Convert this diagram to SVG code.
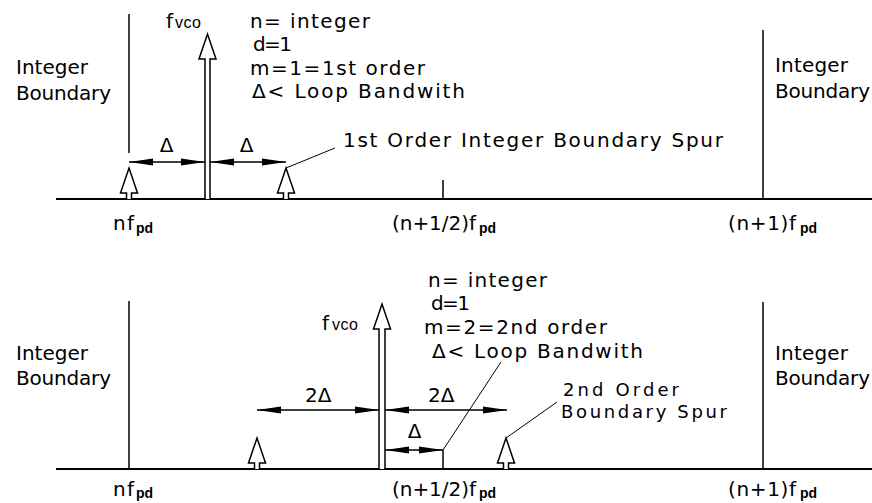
<svg xmlns="http://www.w3.org/2000/svg" width="872" height="503" viewBox="0 0 872 503">
<style>
  .t { font-family: "DejaVu Sans", "Liberation Sans", sans-serif; font-size: 20px; fill: #000; }
  .tight { font-size: 18px; }
  .sub { font-family: "Liberation Sans", Arial, sans-serif; font-size: 14px; font-weight: bold; }
  .vco { font-family: "Liberation Sans", Arial, sans-serif; font-size: 16px; letter-spacing: 0.5px; }
  .ln { stroke: #000; stroke-width: 1.5; fill: none; }
  .axis { stroke: #000; stroke-width: 2; fill: none; }
  .spur { stroke: #000; stroke-width: 1.5; fill: #fff; stroke-linejoin: miter; }
  .dim { stroke: #000; stroke-width: 1.5; fill: none; marker-start: url(#ah); marker-end: url(#ah); }
  .lead { stroke: #000; stroke-width: 1; fill: none; }
</style>
<defs>
  <marker id="ah" markerUnits="userSpaceOnUse" markerWidth="26" markerHeight="8" viewBox="-25 -4 26 8" refX="0" refY="0" orient="auto-start-reverse">
    <path d="M0,0 L-24,-3.5 L-24,3.5 Z" fill="#000"/>
  </marker>
</defs>
<rect width="872" height="503" fill="#fff"/>

<!-- ===== Top panel ===== -->
<g id="top-axis">
  <line class="axis" x1="56" y1="199" x2="872" y2="199"/>
  <line class="ln" x1="443" y1="180" x2="443" y2="199"/>
</g>
<g id="top-left-boundary">
  <line class="ln" x1="129" y1="14" x2="129" y2="153"/>
  <text class="t" x="16" y="74" textLength="72">Integer</text>
  <text class="t" x="16" y="100" textLength="95">Boundary</text>
</g>
<g id="top-right-boundary">
  <line class="ln" x1="763" y1="30" x2="763" y2="199"/>
  <text class="t" x="775" y="72" textLength="73">Integer</text>
  <text class="t" x="775" y="98" textLength="95">Boundary</text>
</g>
<g id="top-fvco">
  <path class="spur" d="M205,199 V59 H199 L207.5,34 L216,59 H210 V199"/>
  <text class="t" x="166" y="28">f<tspan class="vco" x="175" y="28">vco</tspan></text>
</g>
<g id="top-spur-left">
  <path class="spur" d="M126.5,199 V193 H120.5 L129,168 L137.5,193 H131.5 V199"/>
</g>
<g id="top-spur-right">
  <path class="spur" d="M283.5,199 V193 H277.5 L286,168 L294.5,193 H288.5 V199"/>
</g>
<g id="top-params">
  <text class="t" x="250" y="28" textLength="120">n= integer</text>
  <text class="t" x="253" y="51" textLength="39">d=1</text>
  <text class="t" x="250" y="75" textLength="175">m=1=1st order</text>
  <text class="t" x="252" y="98" textLength="213">Δ&lt; Loop Bandwith</text>
</g>
<g id="top-delta-labels">
  <text class="t" x="166.5" y="152" text-anchor="middle">Δ</text>
  <text class="t" x="246.5" y="152" text-anchor="middle">Δ</text>
</g>
<g id="top-spur-label">
  <text class="t" x="343" y="147" textLength="380">1st Order Integer Boundary Spur</text>
</g>
<g id="top-freq-labels">
  <text class="t" x="113" y="230"><tspan textLength="21">nf</tspan><tspan class="sub" x="136" y="233">pd</tspan></text>
  <text class="t" x="392" y="230"><tspan textLength="84">(n+1/2)f</tspan><tspan class="sub" x="479" y="233">pd</tspan></text>
  <text class="t" x="728" y="230"><tspan textLength="68">(n+1)f</tspan><tspan class="sub" x="800" y="233">pd</tspan></text>
</g>

<!-- ===== Bottom panel ===== -->
<g id="bottom-axis">
  <line class="axis" x1="56" y1="469" x2="872" y2="469"/>
  <line class="ln" x1="443" y1="450" x2="443" y2="469"/>
</g>
<g id="bottom-left-boundary">
  <line class="ln" x1="129" y1="301" x2="129" y2="469"/>
  <text class="t" x="16" y="360" textLength="72">Integer</text>
  <text class="t" x="16" y="385" textLength="95">Boundary</text>
</g>
<g id="bottom-right-boundary">
  <line class="ln" x1="763" y1="302" x2="763" y2="469"/>
  <text class="t" x="775" y="360" textLength="73">Integer</text>
  <text class="t" x="775" y="385" textLength="95">Boundary</text>
</g>
<g id="bottom-fvco">
  <path class="spur" d="M379,469 V329 H373.5 L382,304 L390.5,329 H385 V469"/>
  <text class="t" x="322" y="330">f<tspan class="vco" x="332" y="330">vco</tspan></text>
</g>
<g id="bottom-spur-left">
  <path class="spur" d="M254.5,469 V463 H248.5 L257,438 L265.5,463 H259.5 V469"/>
</g>
<g id="bottom-spur-right">
  <path class="spur" d="M503.5,469 V463 H497.5 L506,438 L514.5,463 H508.5 V469"/>
</g>
<g id="bottom-params">
  <text class="t" x="428" y="287" textLength="119">n= integer</text>
  <text class="t" x="431" y="310" textLength="39">d=1</text>
  <text class="t" x="424" y="334" textLength="183">m=2=2nd order</text>
  <text class="t" x="432" y="358" textLength="211">Δ&lt; Loop Bandwith</text>
</g>
<g id="bottom-delta-labels">
  <text class="t" x="305" y="402">2Δ</text>
  <text class="t" x="428" y="402">2Δ</text>
  <text class="t" x="414.5" y="438" text-anchor="middle">Δ</text>
</g>
<g id="bottom-spur-label">
  <text class="t tight" x="563" y="396" textLength="116">2nd Order</text>
  <text class="t tight" x="561" y="418" textLength="166">Boundary Spur</text>
</g>
<g id="bottom-freq-labels">
  <text class="t" x="113" y="496"><tspan textLength="21">nf</tspan><tspan class="sub" x="136" y="498">pd</tspan></text>
  <text class="t" x="392" y="496"><tspan textLength="84">(n+1/2)f</tspan><tspan class="sub" x="479" y="498">pd</tspan></text>
  <text class="t" x="728" y="496"><tspan textLength="68">(n+1)f</tspan><tspan class="sub" x="800" y="498">pd</tspan></text>
</g>

<!-- ===== Connectors ===== -->
<g id="connectors">
  <line class="dim" x1="129" y1="162" x2="205" y2="162"/>
  <line class="dim" x1="210" y1="162" x2="286" y2="162"/>
  <line class="lead" x1="286" y1="168" x2="335" y2="148"/>
  <line class="dim" x1="257" y1="410" x2="379" y2="410"/>
  <line class="dim" x1="385" y1="410" x2="507" y2="410"/>
  <line class="dim" x1="385" y1="450" x2="443" y2="450"/>
  <line class="lead" x1="443" y1="450" x2="501" y2="362"/>
  <line class="lead" x1="506" y1="438" x2="557" y2="402"/>
</g>
</svg>
